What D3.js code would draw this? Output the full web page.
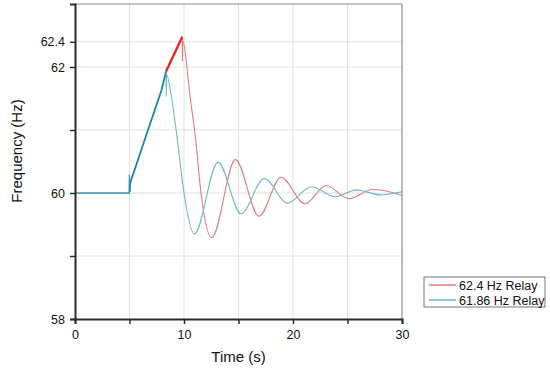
<!DOCTYPE html>
<html>
<head>
<meta charset="utf-8">
<script src="https://cdn.jsdelivr.net/npm/d3@7"></script>
<style>
  body { margin: 0; background: #fff; }
  svg { display: block; font-family: 'Liberation Sans', Arial, sans-serif; }
</style>
</head>
<body>
<div id="chart"></div>
<script>
  'use strict';

  // shared pre-trip ramp (both relays follow the same curve until 8.35 s)
  const rampTime = [0, 4.98, 4.99, 5.01, 5.05, 6.5, 7.95, 8.35];
  const rampFreq = [60, 60, 60.29, 60.02, 60.15, 60.9, 61.64, 61.93];

  const redRampTime = [8.35, 9.84];
  const redRampFreq = [61.93, 62.48];

  const blueDecayTime = [8.35, 8.37, 8.40, 8.87, 9.39, 10.0, 10.95, 13.12, 15.23, 17.37, 19.48, 21.71, 23.85, 25.84, 27.98, 30];
  const blueDecayFreq = [61.93, 61.53, 61.88, 61.5, 60.85, 60.0, 59.35, 60.49, 59.67, 60.23, 59.84, 60.10, 59.94, 60.05, 59.97, 60.02];

  const redDecayTime = [9.84, 9.86, 9.88, 10.55, 11.07, 11.56, 12.54, 14.72, 16.88, 18.9, 21.1, 23.03, 25.14, 27.34, 30];
  const redDecayFreq = [62.48, 62.09, 62.42, 61.54, 60.85, 60.0, 59.29, 60.53, 59.63, 60.25, 59.83, 60.12, 59.91, 60.06, 59.96];

  const xTicks = [0, 5, 10, 15, 20, 25, 30];
  const xLabels = [0, 10, 20, 30];
  const yTicks = [58, 59, 60, 61, 62, 62.4];
  const yLabels = [58, 60, 62, 62.4];
  const seriesNames = ['62.4 Hz Relay', '61.86 Hz Relay'];

  const COLORS = {
    redRamp: '#f0191e',
    redDecay: '#e07b80',
    blueRamp: '#1a84ad',
    blueDecay: '#6cb8c8',
    grid: '#e0e0e0',
    axis: '#2b2b2b',
    frame: '#8a8a8a',
    text: '#111'
  };

  const W = 550, H = 372;
  const margin = { top: 4, left: 75, right: 148, bottom: 53 };
  const width = W - margin.left - margin.right;
  const height = H - margin.top - margin.bottom;

  const svg = d3.select('#chart').append('svg')
    .attr('width', W).attr('height', H);

  const x = d3.scaleLinear().domain([0, 30]).range([0, width]);
  const y = d3.scaleLinear().domain([58, 63]).range([height, 0]);

  const g = svg.append('g')
    .attr('transform', `translate(${margin.left}, ${margin.top})`);

  // grid
  g.append('g').attr('class', 'gridX')
    .selectAll('line').data(xTicks.filter(d => d > 0 && d < 30)).enter().append('line')
    .attr('x1', d => x(d)).attr('x2', d => x(d)).attr('y1', 0).attr('y2', height)
    .attr('stroke', COLORS.grid).attr('stroke-width', 1);
  g.append('g').attr('class', 'gridY')
    .selectAll('line').data(yTicks.filter(d => d > 58)).enter().append('line')
    .attr('x1', 0).attr('x2', width).attr('y1', d => y(d)).attr('y2', d => y(d))
    .attr('stroke', COLORS.grid).attr('stroke-width', 1);

  const zip = (ts, fs) => ts.map((t, i) => [t, fs[i]]);
  const smooth = d3.line().x(d => x(d[0])).y(d => y(d[1])).curve(d3.curveMonotoneX);
  const straight = d3.line().x(d => x(d[0])).y(d => y(d[1]));

  g.append('path').attr('d', smooth(zip(redDecayTime, redDecayFreq)))
    .attr('fill', 'none').attr('stroke', COLORS.redDecay).attr('stroke-width', 1.1);
  g.append('path').attr('d', smooth(zip(blueDecayTime, blueDecayFreq)))
    .attr('fill', 'none').attr('stroke', COLORS.blueDecay).attr('stroke-width', 1.1);
  g.append('path').attr('d', straight(zip(redRampTime, redRampFreq)))
    .attr('fill', 'none').attr('stroke', COLORS.redRamp).attr('stroke-width', 2.2);

  const ramp = zip(rampTime, rampFreq);
  g.append('path').attr('d', straight(ramp.slice(0, 4)))
    .attr('fill', 'none').attr('stroke', COLORS.blueRamp).attr('stroke-width', 1.3)
    .attr('stroke-opacity', 0.85);
  g.append('path').attr('d', straight(ramp.slice(3)))
    .attr('fill', 'none').attr('stroke', COLORS.blueRamp).attr('stroke-width', 1.8)
    .attr('stroke-linejoin', 'round');

  // frame top / right
  g.append('line').attr('x1', 0).attr('x2', width).attr('y1', 0).attr('y2', 0)
    .attr('stroke', COLORS.frame).attr('stroke-width', 1.2);
  g.append('line').attr('x1', width).attr('x2', width).attr('y1', 0).attr('y2', height)
    .attr('stroke', COLORS.frame).attr('stroke-width', 1.2);

  // axes
  const xAxis = g.append('g').attr('transform', `translate(0, ${height})`)
    .call(d3.axisBottom(x).tickValues(xTicks).tickSize(5)
      .tickFormat(d => xLabels.includes(d) ? d : ''));
  const yAxis = g.append('g')
    .call(d3.axisLeft(y).tickValues(yTicks).tickSize(5)
      .tickFormat(d => yLabels.includes(d) ? d : ''));

  [xAxis, yAxis].forEach(a => {
    a.select('.domain').attr('stroke', COLORS.axis).attr('stroke-width', 2);
    a.selectAll('.tick line').attr('stroke', COLORS.axis).attr('stroke-width', 1.5);
    a.selectAll('.tick text').attr('fill', COLORS.text)
      .style('font-size', '12.5px').style('font-family', "'Liberation Sans', Arial, sans-serif");
  });
  xAxis.selectAll('.tick text').attr('y', 11);
  yAxis.selectAll('.tick text').attr('x', -10);

  svg.append('text').text('Time (s)')
    .attr('x', margin.left + width / 2).attr('y', 362)
    .attr('text-anchor', 'middle').attr('fill', COLORS.text)
    .style('font-size', '15px');
  svg.append('text').text('Frequency (Hz)')
    .attr('transform', 'translate(22, 151) rotate(-90)')
    .attr('text-anchor', 'middle').attr('fill', COLORS.text)
    .style('font-size', '15px');

  // legend
  const legend = svg.append('g').attr('class', 'legendWrapper')
    .attr('transform', 'translate(424, 277)');
  legend.append('rect').attr('width', 121).attr('height', 30)
    .attr('fill', '#fff').attr('stroke', '#777').attr('stroke-width', 1);
  const legendColors = [COLORS.redDecay, COLORS.blueDecay];
  const rows = legend.selectAll('.legendRow').data(seriesNames).enter().append('g')
    .attr('class', 'legendRow')
    .attr('transform', (d, i) => `translate(0, ${8 + i * 15})`);
  rows.append('line').attr('x1', 5).attr('x2', 32).attr('y1', 0).attr('y2', 0)
    .attr('stroke', (d, i) => legendColors[i]).attr('stroke-width', 1.5);
  rows.append('text').text(d => d)
    .attr('x', 35).attr('y', 4.5).attr('fill', COLORS.text)
    .style('font-size', '12.5px');
</script>
</body>
</html>
